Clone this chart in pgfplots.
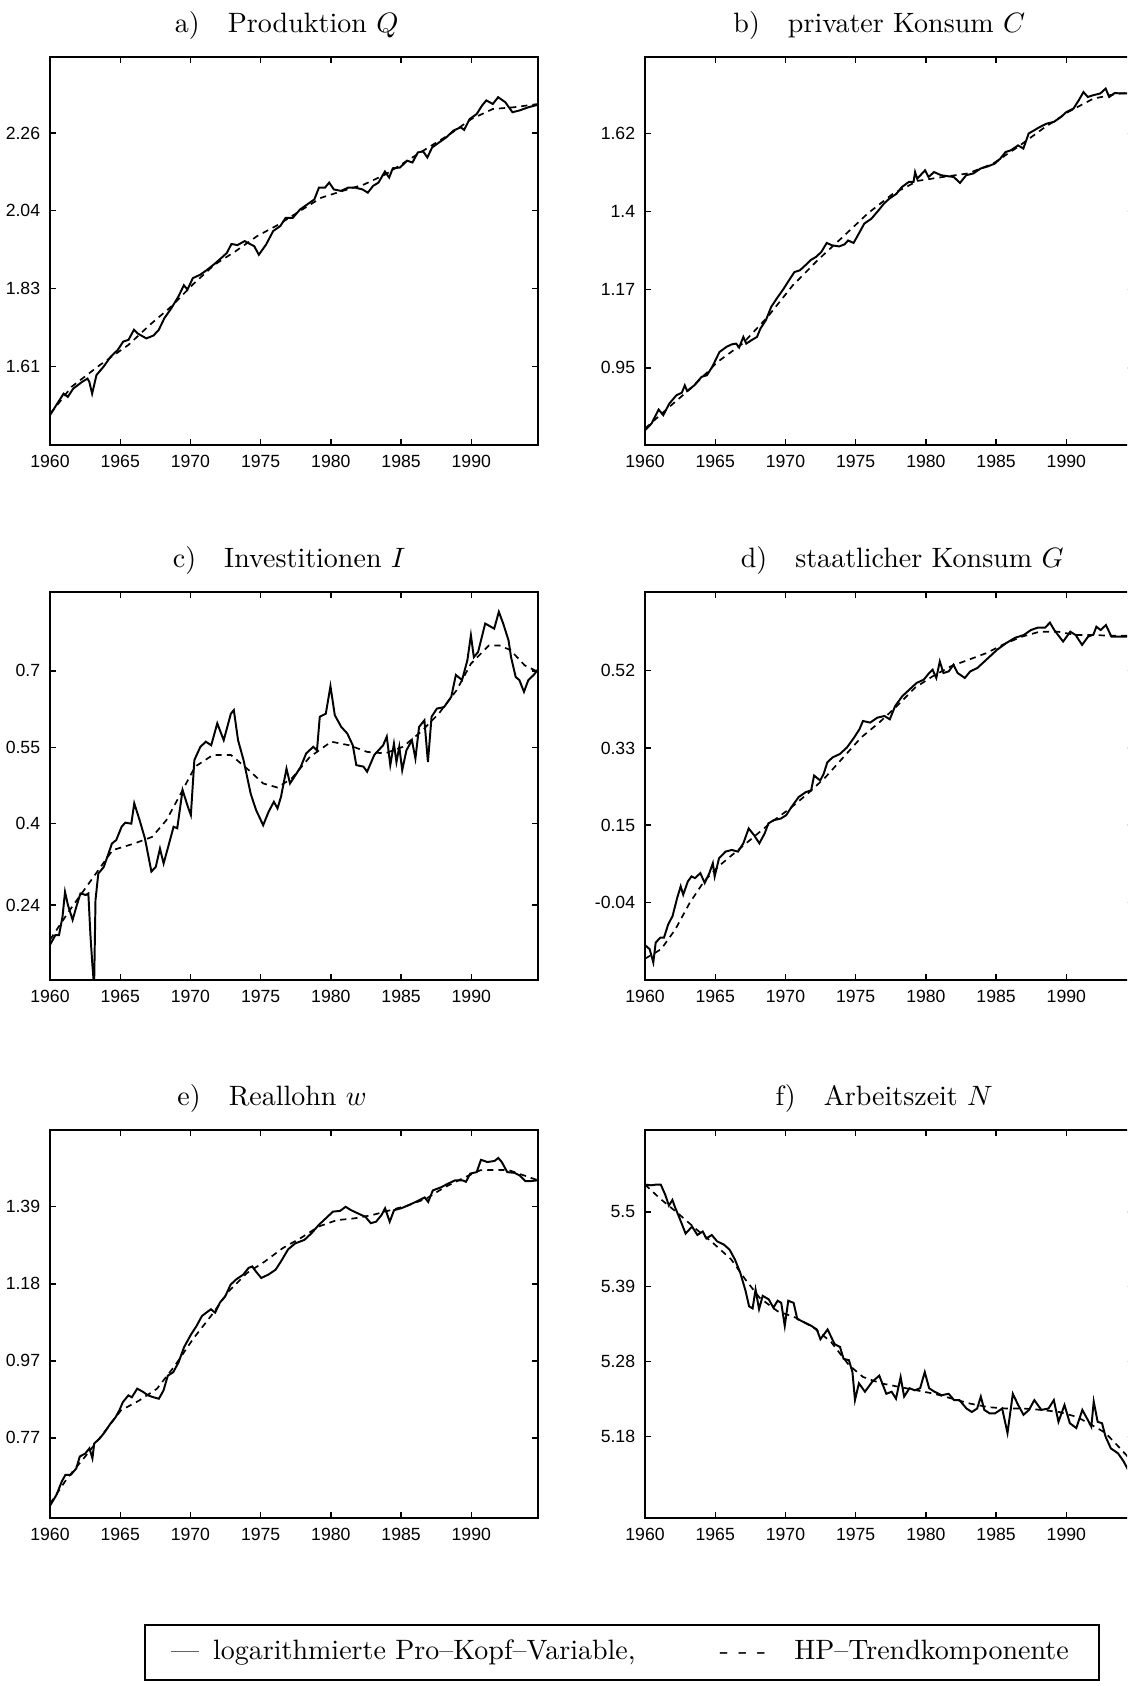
\documentclass[border=0pt]{standalone}
\usepackage{fontspec}
\usepackage{pgfplots}
\pgfplotsset{compat=1.18}
\newfontfamily\labelfont{Liberation Sans}

\pgfplotsset{
  panel/.style={
    scale only axis, width=174.22pt, height=138.52pt,
    xmin=1960, xmax=1994.75,
    xtick={1960,1965,1970,1975,1980,1985,1990},
    xticklabels={1960,1965,1970,1975,1980,1985,1990},
    tick align=inside, major tick length=2.2pt,
    tick style={black, line width=0.5pt},
    axis line style={line width=0.6pt},
    ticklabel style={font=\fontsize{6.3}{7.3}\selectfont\labelfont},
    /pgf/number format/assume math mode=true,
    title style={anchor=base, yshift=2.8pt, font=\normalsize},
    anchor=north west,
  },
  solidl/.style={line width=0.7pt, black},
  trendl/.style={line width=0.6pt, black, dash pattern=on 2.2pt off 1.8pt},
}

\begin{document}
\begin{tikzpicture}
\path[use as bounding box] (0,0) rectangle (402.34pt,601.9pt);
\clip (0,0) rectangle (402.34pt,601.9pt);

% a) Produktion Q
\begin{axis}[panel, at={(17.85pt,581.55pt)},
  title={a)\quad Produktion $Q$}, title style={at={(0.485,1)}},
  ymin=1.389, ymax=2.470,
  ytick={1.6083,1.825,2.0417,2.2583}, yticklabels={1.61,1.83,2.04,2.26}]
\addplot[solidl] coordinates {
(1960.00,1.472) (1960.51,1.504) (1960.97,1.532) (1961.27,1.523) (1961.65,1.546) (1962.29,1.565) (1962.67,1.574) (1962.80,1.565) (1963.00,1.532) (1963.31,1.584) (1963.81,1.607) (1964.32,1.635) (1964.83,1.654) (1965.21,1.677) (1965.59,1.682) (1965.98,1.710) (1966.23,1.700) (1966.86,1.686) (1967.37,1.694) (1967.75,1.710) (1968.14,1.742) (1968.64,1.770) (1969.15,1.803) (1969.53,1.834) (1969.79,1.822) (1970.17,1.854) (1970.68,1.863) (1971.19,1.877) (1971.70,1.893) (1972.20,1.910) (1972.59,1.924) (1972.92,1.949) (1973.35,1.946) (1973.86,1.957) (1974.24,1.949) (1974.54,1.943) (1974.87,1.919) (1975.38,1.947) (1975.89,1.985) (1976.40,1.999) (1976.78,2.022) (1977.29,2.022) (1977.80,2.045) (1978.31,2.059) (1978.82,2.073) (1979.15,2.106) (1979.58,2.106) (1979.88,2.120) (1980.21,2.101) (1980.72,2.097) (1981.23,2.106) (1981.74,2.106) (1982.25,2.101) (1982.63,2.092) (1983.01,2.111) (1983.39,2.120) (1983.85,2.151) (1984.15,2.134) (1984.41,2.160) (1984.92,2.162) (1985.43,2.181) (1985.81,2.176) (1986.19,2.204) (1986.57,2.207) (1986.87,2.190) (1987.21,2.218) (1987.71,2.232) (1988.22,2.246) (1988.73,2.265) (1989.24,2.274) (1989.49,2.267) (1989.88,2.297) (1990.38,2.311) (1990.77,2.335) (1991.07,2.349) (1991.53,2.339) (1991.91,2.358) (1992.42,2.344) (1992.93,2.316) (1993.43,2.321) (1994.07,2.330) (1994.75,2.337)};
\addplot[trendl] coordinates {
(1960.00,1.478) (1960.25,1.487) (1961.53,1.551) (1963.56,1.612) (1965.59,1.668) (1967.12,1.724) (1968.64,1.775) (1970.17,1.836) (1971.70,1.891) (1973.22,1.929) (1974.75,1.971) (1976.27,2.003) (1977.80,2.041) (1979.32,2.078) (1980.85,2.097) (1982.37,2.115) (1983.90,2.143) (1985.43,2.181) (1986.95,2.218) (1988.48,2.255) (1990.00,2.297) (1991.53,2.325) (1993.05,2.330) (1994.75,2.339)};
\end{axis}

% b) privater Konsum C
\begin{axis}[panel, at={(230.27pt,581.55pt)},
  title={b)\quad privater Konsum $C$}, title style={at={(0.48,1)}},
  ymin=0.731, ymax=1.837,
  ytick={0.951,1.1735,1.396,1.6185}, yticklabels={0.95,1.17,1.4,1.62}]
\addplot[solidl] coordinates {
(1960.00,0.773) (1960.46,0.792) (1960.97,0.832) (1961.30,0.816) (1961.73,0.849) (1962.24,0.873) (1962.62,0.880) (1962.83,0.901) (1963.00,0.885) (1963.51,0.901) (1964.02,0.925) (1964.41,0.930) (1964.79,0.954) (1965.30,0.996) (1965.81,1.011) (1966.19,1.018) (1966.49,1.020) (1966.70,1.009) (1967.00,1.039) (1967.21,1.020) (1967.59,1.030) (1967.97,1.039) (1968.22,1.063) (1968.61,1.087) (1968.99,1.125) (1969.37,1.148) (1969.88,1.177) (1970.26,1.201) (1970.64,1.224) (1971.03,1.229) (1971.41,1.243) (1971.79,1.258) (1972.17,1.267) (1972.55,1.281) (1972.94,1.307) (1973.32,1.300) (1973.83,1.297) (1974.21,1.303) (1974.46,1.314) (1974.85,1.307) (1975.23,1.334) (1975.61,1.362) (1976.12,1.376) (1976.63,1.400) (1977.01,1.419) (1977.39,1.433) (1977.90,1.447) (1978.28,1.466) (1978.79,1.481) (1979.12,1.481) (1979.23,1.509) (1979.38,1.490) (1979.94,1.514) (1980.19,1.495) (1980.58,1.509) (1981.08,1.500) (1981.59,1.497) (1981.98,1.495) (1982.43,1.478) (1982.87,1.500) (1983.38,1.505) (1983.89,1.519) (1984.40,1.525) (1984.90,1.533) (1985.29,1.547) (1985.67,1.566) (1986.05,1.571) (1986.56,1.585) (1986.94,1.576) (1987.32,1.619) (1987.71,1.628) (1988.09,1.637) (1988.60,1.647) (1989.11,1.652) (1989.62,1.666) (1990.00,1.680) (1990.51,1.690) (1990.89,1.714) (1991.22,1.737) (1991.53,1.723) (1991.91,1.728) (1992.42,1.733) (1992.80,1.747) (1993.05,1.723) (1993.43,1.734) (1994.07,1.733) (1994.75,1.733)};
\addplot[trendl] coordinates {
(1960.00,0.778) (1961.60,0.835) (1963.39,0.897) (1965.17,0.968) (1966.95,1.020) (1968.73,1.096) (1970.52,1.186) (1972.30,1.258) (1974.08,1.324) (1975.86,1.391) (1977.65,1.447) (1979.43,1.484) (1981.21,1.495) (1982.99,1.505) (1984.78,1.533) (1986.56,1.581) (1988.34,1.633) (1990.12,1.680) (1991.91,1.718) (1993.69,1.733) (1994.75,1.734)};
\end{axis}

% c) Investitionen I
\begin{axis}[panel, at={(17.85pt,390.56pt)},
  title={c)\quad Investitionen $I$}, title style={at={(0.49,1)}},
  ymin=0.093, ymax=0.855,
  ytick={0.24,0.4,0.55,0.7}, yticklabels={0.24,0.4,0.55,0.7}]
\addplot[solidl] coordinates {
(1960.00,0.162) (1960.38,0.181) (1960.64,0.181) (1960.89,0.217) (1961.07,0.266) (1961.28,0.240) (1961.61,0.211) (1961.91,0.240) (1962.17,0.263) (1962.55,0.260) (1962.73,0.263) (1962.88,0.181) (1963.01,0.126) (1963.14,0.080) (1963.24,0.250) (1963.44,0.302) (1963.83,0.315) (1964.21,0.345) (1964.41,0.361) (1964.72,0.368) (1965.10,0.394) (1965.36,0.402) (1965.79,0.400) (1966.00,0.440) (1966.38,0.407) (1966.76,0.371) (1967.22,0.306) (1967.53,0.315) (1967.83,0.351) (1968.09,0.322) (1968.42,0.355) (1968.80,0.394) (1969.06,0.391) (1969.44,0.466) (1969.82,0.433) (1970.03,0.417) (1970.28,0.525) (1970.71,0.551) (1971.10,0.561) (1971.48,0.554) (1971.91,0.597) (1972.37,0.564) (1972.88,0.616) (1973.09,0.623) (1973.39,0.564) (1973.78,0.525) (1974.29,0.459) (1974.67,0.427) (1975.18,0.397) (1975.56,0.423) (1975.94,0.443) (1976.20,0.430) (1976.45,0.453) (1976.84,0.508) (1977.09,0.479) (1977.47,0.495) (1977.86,0.512) (1978.24,0.538) (1978.75,0.551) (1979.01,0.544) (1979.21,0.610) (1979.64,0.616) (1979.97,0.670) (1980.28,0.613) (1980.74,0.590) (1981.17,0.577) (1981.56,0.554) (1981.81,0.515) (1982.32,0.512) (1982.58,0.502) (1983.09,0.535) (1983.72,0.554) (1983.98,0.571) (1984.23,0.515) (1984.49,0.557) (1984.67,0.521) (1984.87,0.551) (1985.08,0.505) (1985.38,0.544) (1985.77,0.564) (1986.02,0.528) (1986.28,0.590) (1986.66,0.603) (1986.91,0.521) (1987.17,0.610) (1987.55,0.626) (1988.06,0.629) (1988.57,0.649) (1988.90,0.692) (1989.34,0.682) (1989.72,0.721) (1989.97,0.770) (1990.18,0.727) (1990.48,0.737) (1990.99,0.793) (1991.63,0.783) (1991.96,0.816) (1992.27,0.793) (1992.65,0.760) (1992.83,0.727) (1993.16,0.688) (1993.42,0.682) (1993.75,0.659) (1994.06,0.682) (1994.44,0.692) (1994.75,0.703)};
\addplot[trendl] coordinates {
(1960.00,0.172) (1961.40,0.230) (1962.93,0.289) (1964.46,0.348) (1965.99,0.361) (1967.27,0.374) (1968.29,0.407) (1969.31,0.459) (1970.33,0.512) (1971.61,0.535) (1972.88,0.535) (1974.16,0.505) (1975.18,0.479) (1976.20,0.471) (1977.22,0.489) (1978.50,0.531) (1980.03,0.561) (1981.30,0.554) (1982.58,0.541) (1983.85,0.538) (1985.13,0.551) (1986.40,0.580) (1987.68,0.616) (1988.95,0.662) (1989.97,0.714) (1991.25,0.750) (1992.00,0.750) (1992.78,0.741) (1993.80,0.711) (1994.75,0.698)};
\end{axis}

% d) staatlicher Konsum G
\begin{axis}[panel, at={(230.27pt,390.56pt)},
  title={d)\quad staatlicher Konsum $G$}, title style={at={(0.527,1)}},
  ymin=-0.2295, ymax=0.709,
  ytick={-0.0415,0.1452,0.3318,0.5185}, yticklabels={-0.04,0.15,0.33,0.52}]
\addplot[solidl] coordinates {
(1960.00,-0.145) (1960.33,-0.155) (1960.59,-0.187) (1960.76,-0.139) (1961.09,-0.127) (1961.35,-0.127) (1961.65,-0.095) (1961.96,-0.075) (1962.29,-0.031) (1962.54,-0.003) (1962.72,-0.023) (1963.05,0.009) (1963.31,0.021) (1963.56,0.017) (1963.94,0.029) (1964.25,0.005) (1964.58,0.029) (1964.83,0.053) (1964.96,0.021) (1965.27,0.065) (1965.73,0.081) (1966.18,0.085) (1966.62,0.081) (1967.00,0.101) (1967.38,0.137) (1967.76,0.121) (1968.14,0.101) (1968.52,0.125) (1968.78,0.149) (1969.16,0.157) (1969.67,0.161) (1970.05,0.169) (1970.43,0.189) (1970.94,0.213) (1971.45,0.225) (1971.83,0.229) (1972.04,0.265) (1972.47,0.253) (1972.72,0.269) (1972.98,0.297) (1973.36,0.309) (1973.87,0.317) (1974.38,0.333) (1974.89,0.357) (1975.27,0.377) (1975.52,0.397) (1976.03,0.393) (1976.54,0.405) (1977.05,0.409) (1977.43,0.401) (1977.81,0.433) (1978.32,0.457) (1978.83,0.473) (1979.34,0.489) (1979.85,0.497) (1980.23,0.513) (1980.48,0.521) (1980.74,0.501) (1980.99,0.541) (1981.25,0.513) (1981.63,0.517) (1981.96,0.533) (1982.26,0.513) (1982.77,0.501) (1983.16,0.517) (1983.66,0.525) (1984.17,0.541) (1984.68,0.557) (1985.06,0.569) (1985.70,0.585) (1986.34,0.598) (1986.97,0.605) (1987.48,0.617) (1987.99,0.623) (1988.50,0.623) (1988.83,0.635) (1989.14,0.617) (1989.77,0.589) (1990.28,0.613) (1990.66,0.605) (1991.12,0.581) (1991.55,0.601) (1991.93,0.606) (1992.14,0.625) (1992.44,0.617) (1992.82,0.629) (1993.21,0.601) (1993.72,0.601) (1994.75,0.601)};
\addplot[trendl] coordinates {
(1960.00,-0.178) (1961.15,-0.155) (1962.16,-0.107) (1963.18,-0.043) (1964.20,0.009) (1965.22,0.045) (1966.49,0.081) (1967.76,0.117) (1969.03,0.153) (1970.31,0.185) (1971.58,0.221) (1972.85,0.261) (1974.12,0.309) (1975.39,0.357) (1976.67,0.393) (1977.94,0.433) (1979.21,0.477) (1980.48,0.505) (1981.76,0.529) (1983.03,0.545) (1984.30,0.561) (1985.57,0.583) (1986.84,0.601) (1988.12,0.613) (1989.39,0.613) (1990.66,0.605) (1991.93,0.605) (1993.21,0.603) (1994.75,0.603)};
\end{axis}

% e) Reallohn w
\begin{axis}[panel, at={(17.85pt,198.49pt)},
  title={e)\quad Reallohn $w$}, title style={at={(0.455,1)}},
  ymin=0.552, ymax=1.593,
  ytick={0.767,0.9737,1.1803,1.387}, yticklabels={0.77,0.97,1.18,1.39}]
\addplot[solidl] coordinates {
(1960.00,0.585) (1960.46,0.614) (1960.84,0.650) (1961.10,0.668) (1961.48,0.668) (1961.87,0.685) (1962.12,0.717) (1962.51,0.725) (1962.81,0.739) (1963.02,0.712) (1963.15,0.752) (1963.53,0.765) (1963.91,0.783) (1964.30,0.805) (1964.68,0.823) (1964.94,0.841) (1965.19,0.863) (1965.58,0.881) (1965.83,0.876) (1966.21,0.899) (1966.60,0.891) (1966.98,0.881) (1967.37,0.876) (1967.75,0.872) (1968.08,0.894) (1968.39,0.934) (1968.77,0.943) (1969.16,0.970) (1969.54,1.010) (1970.05,1.045) (1970.43,1.067) (1970.82,1.094) (1971.20,1.105) (1971.46,1.112) (1971.76,1.103) (1972.10,1.130) (1972.48,1.147) (1972.86,1.178) (1973.25,1.192) (1973.76,1.205) (1974.14,1.223) (1974.40,1.227) (1974.65,1.214) (1975.04,1.196) (1975.55,1.205) (1976.06,1.218) (1976.44,1.240) (1976.96,1.273) (1977.47,1.289) (1978.11,1.298) (1978.62,1.316) (1979.13,1.338) (1979.64,1.356) (1980.15,1.374) (1980.66,1.376) (1981.05,1.387) (1981.43,1.378) (1981.94,1.369) (1982.46,1.360) (1982.84,1.343) (1983.22,1.347) (1983.61,1.365) (1983.86,1.383) (1984.19,1.347) (1984.50,1.378) (1985.01,1.383) (1985.52,1.391) (1986.04,1.400) (1986.68,1.412) (1986.93,1.400) (1987.26,1.431) (1987.83,1.439) (1988.34,1.449) (1988.85,1.458) (1989.36,1.458) (1989.62,1.454) (1989.92,1.476) (1990.38,1.480) (1990.69,1.513) (1991.15,1.507) (1991.66,1.510) (1991.92,1.518) (1992.17,1.507) (1992.56,1.480) (1993.07,1.478) (1993.45,1.471) (1993.84,1.456) (1994.22,1.456) (1994.75,1.458)};
\addplot[trendl] coordinates {
(1960.00,0.590) (1961.23,0.659) (1962.51,0.717) (1963.79,0.779) (1965.06,0.841) (1966.34,0.867) (1967.62,0.899) (1968.90,0.961) (1970.18,1.032) (1971.46,1.094) (1972.74,1.161) (1974.02,1.209) (1975.29,1.240) (1976.57,1.276) (1977.85,1.303) (1979.13,1.334) (1980.41,1.351) (1981.69,1.356) (1982.97,1.365) (1984.25,1.378) (1985.52,1.391) (1986.80,1.409) (1988.08,1.439) (1989.36,1.463) (1990.64,1.485) (1991.92,1.486) (1992.69,1.485) (1994.75,1.458)};
\end{axis}

% f) Arbeitszeit N
\begin{axis}[panel, at={(230.27pt,198.49pt)},
  title={f)\quad Arbeitszeit $N$}, title style={at={(0.49,1)}},
  ymin=5.0605, ymax=5.615,
  ytick={5.177,5.284,5.391,5.498}, yticklabels={5.18,5.28,5.39,5.5}]
\addplot[solidl] coordinates {
(1960.00,5.537) (1960.43,5.536) (1960.81,5.537) (1961.12,5.537) (1961.45,5.522) (1961.70,5.507) (1961.95,5.515) (1962.13,5.505) (1962.46,5.489) (1962.89,5.467) (1963.35,5.477) (1963.73,5.465) (1964.11,5.470) (1964.37,5.460) (1964.75,5.465) (1965.13,5.456) (1965.63,5.451) (1966.02,5.444) (1966.40,5.430) (1966.78,5.411) (1967.16,5.385) (1967.41,5.363) (1967.66,5.360) (1967.87,5.387) (1968.12,5.359) (1968.38,5.378) (1968.81,5.373) (1969.14,5.361) (1969.44,5.371) (1969.70,5.368) (1969.95,5.335) (1970.20,5.371) (1970.58,5.368) (1970.84,5.345) (1971.35,5.340) (1971.85,5.335) (1972.23,5.330) (1972.49,5.316) (1973.00,5.330) (1973.50,5.309) (1973.88,5.305) (1974.14,5.288) (1974.52,5.286) (1974.77,5.269) (1974.95,5.229) (1975.23,5.253) (1975.66,5.241) (1976.17,5.255) (1976.68,5.264) (1977.18,5.238) (1977.56,5.241) (1977.87,5.231) (1978.20,5.262) (1978.45,5.234) (1978.83,5.246) (1979.21,5.243) (1979.59,5.246) (1979.92,5.269) (1980.23,5.246) (1980.61,5.241) (1981.12,5.236) (1981.62,5.238) (1982.01,5.229) (1982.39,5.229) (1982.89,5.217) (1983.27,5.212) (1983.65,5.217) (1983.91,5.234) (1984.16,5.215) (1984.54,5.210) (1984.92,5.210) (1985.43,5.217) (1985.81,5.182) (1986.19,5.238) (1986.57,5.222) (1986.95,5.208) (1987.34,5.215) (1987.72,5.229) (1988.22,5.215) (1988.73,5.217) (1989.11,5.229) (1989.44,5.198) (1989.87,5.222) (1990.25,5.196) (1990.71,5.189) (1991.14,5.215) (1991.52,5.201) (1991.78,5.191) (1991.95,5.227) (1992.23,5.198) (1992.54,5.196) (1992.79,5.177) (1993.17,5.160) (1993.68,5.153) (1994.06,5.142) (1994.52,5.125) (1994.75,5.112)};
\addplot[trendl] coordinates {
(1960.00,5.537) (1961.07,5.517) (1962.34,5.496) (1963.60,5.474) (1964.87,5.453) (1966.14,5.430) (1967.16,5.401) (1968.17,5.375) (1969.44,5.356) (1970.71,5.347) (1971.98,5.333) (1973.25,5.312) (1974.52,5.279) (1975.53,5.262) (1976.80,5.253) (1978.07,5.248) (1979.34,5.243) (1980.61,5.238) (1981.88,5.231) (1983.15,5.224) (1984.42,5.219) (1985.69,5.217) (1986.95,5.217) (1988.22,5.215) (1989.49,5.212) (1990.76,5.205) (1992.03,5.191) (1992.79,5.182) (1993.60,5.165) (1994.75,5.140)};
\end{axis}

% legend box
\draw[line width=0.7pt] (51.77pt,2.14pt) rectangle (392.34pt,21.77pt);
\node[anchor=center, inner sep=0pt] at (221.3pt,11.8pt)
  {---\enspace logarithmierte Pro--Kopf--Variable,\qquad\quad -\ -\ -\quad HP--Trendkomponente};
\end{tikzpicture}
\end{document}
